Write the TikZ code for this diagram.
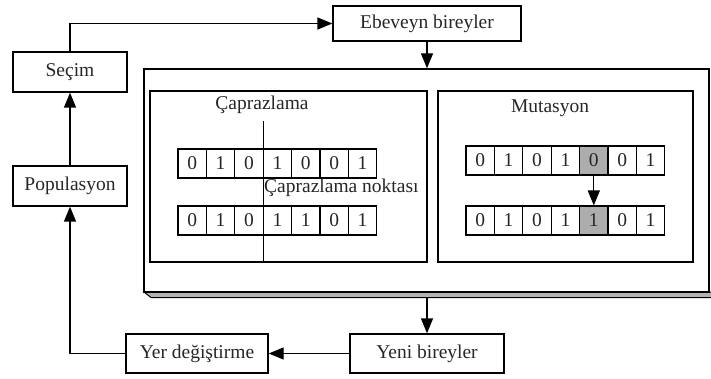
\documentclass[tikz,border=0pt]{standalone}
\usepackage{fontspec}
\setmainfont{Liberation Serif}
\usetikzlibrary{arrows.meta}
\begin{document}
\begin{tikzpicture}[x=1pt,y=-1pt,
  font=\fontsize{19.5}{22}\selectfont,
  lw/.style={line width=1.3pt},
  box/.style={lw,draw,inner sep=0pt,text=black!85},
  cell/.style={draw,line width=1.1pt,minimum width=28.4pt,minimum height=29pt,inner sep=0pt,text=black!85},
  arr/.style={lw,-{Triangle[length=15pt,width=12pt]}}]
\useasboundingbox (0,0) rectangle (711,379);
\clip (0,0) rectangle (711,379);
% outer box with shadow
\filldraw[fill=black!30,line width=1pt] (144,292) -- (151,297.5) -- (722,297.5) -- (716,292) -- cycle;
\node[box,fill=white,minimum width=565pt,minimum height=223pt] (outer) at (426.5,180.5) {};
\node[box,minimum width=277pt,minimum height=171pt] (cross) at (288.5,176.5) {};
\node[box,minimum width=255pt,minimum height=171pt] (mut) at (565.5,176.5) {};
% main boxes
\node[box,minimum width=188pt,minimum height=35pt] (ebeveyn) at (427,23.5) {Ebeveyn bireyler};
\node[box,minimum width=114pt,minimum height=40pt] (secim) at (70,72) {Seçim};
\node[box,minimum width=114pt,minimum height=40pt] (pop) at (70,186) {Populasyon};
\node[box,minimum width=142pt,minimum height=39pt] (yer) at (197,353.5) {Yer değiştirme};
\node[box,minimum width=154pt,minimum height=39pt] (yeni) at (427,353.5) {Yeni bireyler};
% labels
\node[text=black!85] (lcross) at (262,105) {Çaprazlama};
\node[text=black!85] (lmut) at (550,108) {Mutasyon};
\node[text=black!85,anchor=west,inner sep=0pt] (lpoint) at (264,188) {Çaprazlama noktası};
% crossover cells
\foreach \b [count=\i from 0] in {0,1,0,1,0,0,1}
  \node[cell] (ca\i) at (192.2+28.4*\i,163.5) {\b};
\foreach \b [count=\i from 0] in {0,1,0,1,1,0,1}
  \node[cell] (cb\i) at (192.2+28.4*\i,220.5) {\b};
% mutation cells
\foreach \b [count=\i from 0] in {0,1,0,1,0,0,1}
  \node[cell] (ma\i) at (480.2+28.4*\i,160.5) {\b};
\foreach \b [count=\i from 0] in {0,1,0,1,1,0,1}
  \node[cell] (mb\i) at (480.2+28.4*\i,220.5) {\b};
\node[cell,fill=black!32] at (ma4) {0};
\node[cell,fill=black!32] at (mb4) {1};
% crossover point line
\coordinate (ctop) at (263.2,121);
\draw[line width=1.1pt] (ctop) -- (ctop |- cross.south);
% connectors
\draw[arr] (ma4.south) -- (mb4.north);
\draw[arr] (secim.north) |- (ebeveyn.west);
\draw[arr] (ebeveyn.south) -- (ebeveyn.south |- outer.north);
\coordinate (obot) at (427,297.5);
\draw[arr] (obot) -- (yeni.north);
\draw[arr] (yeni.west) -- (yer.east);
\draw[arr] (yer.west) -| (pop.south);
\draw[arr] (pop.north) -- (secim.south);
\end{tikzpicture}
\end{document}
